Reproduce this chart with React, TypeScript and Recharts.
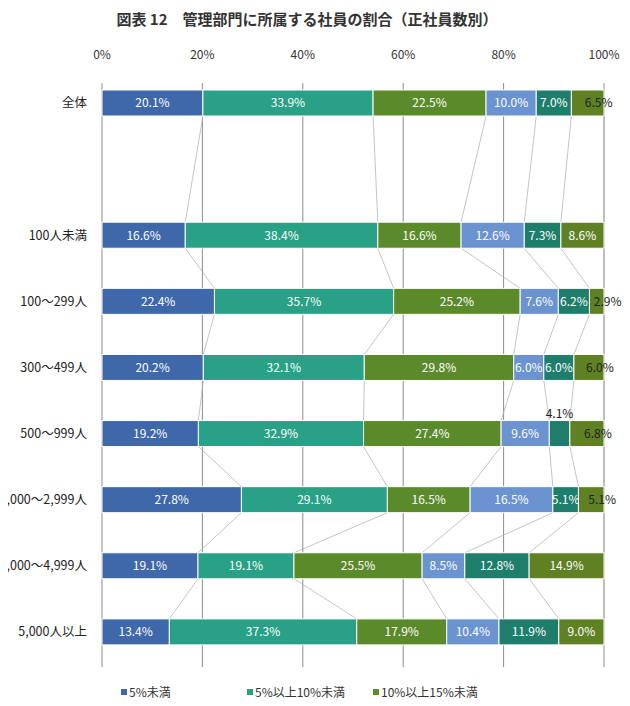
import React from "react";
import { BarChart, Bar, XAxis, YAxis, CartesianGrid } from "recharts";

const categories = [
  "全体",
  "",
  "100人未満",
  "100～299人",
  "300～499人",
  "500～999人",
  "1,000～2,999人",
  "3,000～4,999人",
  "5,000人以上",
];

const seriesNames = ["5%未満", "5%以上10%未満", "10%以上15%未満", "15%以上20%未満", "20%以上30%未満", "30%以上"];

const under5 = [20.1, null, 16.6, 22.4, 20.2, 19.2, 27.8, 19.1, 13.4];
const from5to10 = [33.9, null, 38.4, 35.7, 32.1, 32.9, 29.1, 19.1, 37.3];
const from10to15 = [22.5, null, 16.6, 25.2, 29.8, 27.4, 16.5, 25.5, 17.9];
const from15to20 = [10.0, null, 12.6, 7.6, 6.0, 9.6, 16.5, 8.5, 10.4];
const from20to30 = [7.0, null, 7.3, 6.2, 6.0, 4.1, 5.1, 12.8, 11.9];
const over30 = [6.5, null, 8.6, 2.9, 6.0, 6.8, 5.1, 14.9, 9.0];

const pctTicks = [0, 20, 40, 60, 80, 100];

const seriesValues = [under5, from5to10, from10to15, from15to20, from20to30, over30];
const seriesKeys = ["s1", "s2", "s3", "s4", "s5", "s6"];
const seriesColors = ["#3e68a9", "#28a186", "#5a8a2a", "#6a93cf", "#1e7d6b", "#5f8124"];

const data = categories.map((name, i) => {
  const row: Record<string, any> = { name };
  seriesKeys.forEach((k, j) => {
    row[k] = seriesValues[j][i];
  });
  return row;
});

const FONT = '"Noto Sans CJK JP", "Noto Sans", sans-serif';

// right edge of every segment, kept while the bars draw, for the Excel-style series lines
const edges: Record<string, Record<number, { right: number; top: number; bottom: number }>> = {};

function makeShape(key: string, sIdx: number) {
  return (props: any) => {
    const { x, y, width, height, index, fill } = props;
    const value = data[index]?.[key];
    if (value == null || !isFinite(width) || width <= 0) return <g />;

    const store = (edges[key] ||= {});
    store[index] = { right: x + width, top: y, bottom: y + height };
    let prev: { right: number; top: number; bottom: number } | null = null;
    for (let k = index - 1; k >= 0; k--) {
      if (data[k][key] != null && store[k]) {
        prev = store[k];
        break;
      }
    }

    let tx = x + width / 2;
    let ty = y + height / 2;
    let color = "#fff";
    if (sIdx === 5 && value < 7) {
      tx += 11;
      color = "#222";
    } else if (sIdx === 4 && value < 5) {
      ty = y - 7;
      color = "#222";
    }

    return (
      <g>
        {prev && (
          <line x1={prev.right} y1={prev.bottom} x2={x + width} y2={y} stroke="#b0b0b0" strokeWidth={0.75} />
        )}
        <rect x={x} y={y} width={width} height={height} fill={fill} stroke="#fff" strokeWidth={1} />
        <text x={tx} y={ty} dy="0.36em" textAnchor="middle" fill={color} fontSize={12} fontFamily={FONT}>
          {`${value.toFixed(1)}%`}
        </text>
      </g>
    );
  };
}

export default function App() {
  return (
    <div style={{ position: "relative", width: 630, height: 706, margin: -8, fontFamily: FONT, background: "#fff" }}>
      <div
        style={{
          position: "absolute",
          top: 8,
          left: 0,
          width: 614,
          textAlign: "center",
          fontSize: 15,
          fontWeight: "bold",
          color: "#333",
        }}
      >
        図表 12　管理部門に所属する社員の割合（正社員数別）
      </div>

      <BarChart
        width={630}
        height={706}
        data={data}
        layout="vertical"
        stackOffset="expand"
        barSize={26}
        margin={{ top: 30, right: 26, bottom: 41, left: 0 }}
      >
        <CartesianGrid
          horizontal={false}
          vertical={(p: any) => (
            <line key={p.key} x1={p.x1} x2={p.x2} y1={p.y1 + 13} y2={p.y2 + 2} stroke="#8c8c8c" strokeWidth={1} />
          )}
        />
        <XAxis
          type="number"
          orientation="top"
          domain={[0, 1]}
          ticks={pctTicks.map(t => t / 100)}
          tickFormatter={v => `${Math.round(v * 100)}%`}
          height={40}
          axisLine={false}
          tickLine={false}
          tickMargin={5}
          tick={{ fill: "#333", fontSize: 12, fontFamily: FONT }}
        />
        <YAxis
          type="category"
          dataKey="name"
          width={102}
          axisLine={false}
          tickLine={false}
          tickMargin={9}
          interval={0}
          tick={{ fill: "#222", fontSize: 12.5, fontFamily: FONT }}
        />
        {seriesKeys.map((k, i) => (
          <Bar
            key={k}
            dataKey={k}
            name={seriesNames[i]}
            stackId="a"
            fill={seriesColors[i]}
            isAnimationActive={false}
            shape={makeShape(k, i)}
          />
        ))}
      </BarChart>

      <div style={{ position: "absolute", top: 683, left: 121, display: "flex", fontSize: 12, color: "#333" }}>
        {seriesNames.slice(0, 3).map((n, i) => (
          <div key={n} style={{ width: 126, display: "flex", alignItems: "center" }}>
            <span style={{ width: 6, height: 6, background: seriesColors[i], marginRight: 2 }} />
            {n}
          </div>
        ))}
      </div>
    </div>
  );
}
